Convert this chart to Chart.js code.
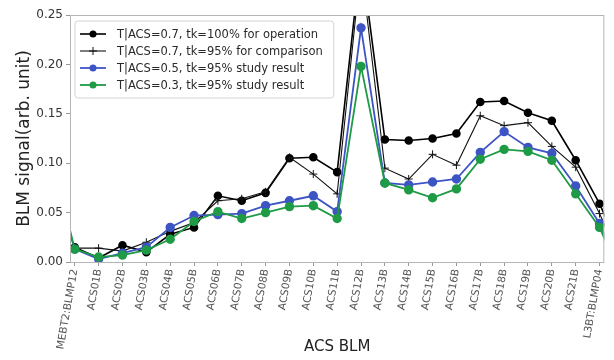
<!DOCTYPE html>
<html>
<head>
<meta charset="utf-8">
<script src="https://cdn.jsdelivr.net/npm/chart.js@4/dist/chart.umd.min.js"></script>
<style>
  body { margin: 0; background: #fff; }
  #wrap { width: 614px; height: 360px; }
</style>
</head>
<body>
<div id="wrap"><canvas id="blmChart"></canvas></div>
<script>
// BLM positions along the ACS section
const blmNames = ['MEBT2:BLMP12', 'ACS01B', 'ACS02B', 'ACS03B', 'ACS04B', 'ACS05B', 'ACS06B',
    'ACS07B', 'ACS08B', 'ACS09B', 'ACS10B', 'ACS11B', 'ACS12B', 'ACS13B', 'ACS14B', 'ACS15B',
    'ACS16B', 'ACS17B', 'ACS18B', 'ACS19B', 'ACS20B', 'ACS21B', 'L3BT:BLMP04'];

// signals (arb. unit)
const opT07tk100 = [0.015, 0.004, 0.017, 0.010, 0.028, 0.035, 0.067, 0.062, 0.070, 0.105, 0.106, 0.091,
    0.310, 0.124, 0.123, 0.125, 0.130, 0.162, 0.163, 0.151, 0.143, 0.103, 0.059];
const cmpT07tk95 = [0.014, 0.014, 0.011, 0.020, 0.031, 0.040, 0.062, 0.064, 0.071, 0.106, 0.089, 0.069,
    0.300, 0.095, 0.084, 0.109, 0.098, 0.148, 0.138, 0.141, 0.117, 0.096, 0.049];
const studyT05tk95 = [0.013, 0.003, 0.009, 0.015, 0.035, 0.047, 0.048, 0.049, 0.057, 0.062, 0.067, 0.051,
    0.237, 0.080, 0.078, 0.081, 0.084, 0.111, 0.132, 0.116, 0.110, 0.077, 0.039];
const studyT03tk95 = [0.013, 0.005, 0.007, 0.012, 0.023, 0.041, 0.051, 0.044, 0.050, 0.056, 0.057, 0.044,
    0.198, 0.080, 0.073, 0.065, 0.074, 0.104, 0.114, 0.112, 0.103, 0.069, 0.035];

// neighbouring monitors just outside the plotted range (only their line stubs show)
const upstreamBlm = [0.015, 0.014, 0.090, 0.110];
const downstreamBlm = [0.005, -0.005, -0.015, -0.020];

const yTicks = [0, 0.05, 0.10, 0.15, 0.20, 0.25];

function toPoints(values, k) {
    const pts = values.map((v, i) => ({ x: i, y: v }));
    pts.unshift({ x: -1, y: upstreamBlm[k] });
    pts.push({ x: values.length, y: downstreamBlm[k] });
    return pts;
}

// legend drawn inside the plot, matplotlib style (line + marker)
const innerLegend = {
    id: 'innerLegend',
    afterDatasetsDraw(chart) {
        const ctx = chart.ctx;
        const area = chart.chartArea;
        const x0 = area.left + 5, y0 = area.top + 6;
        const rowH = 17;
        ctx.save();
        ctx.font = '11.5px "DejaVu Sans"';
        let maxW = 0;
        chart.data.datasets.forEach(ds => { maxW = Math.max(maxW, ctx.measureText(ds.label).width); });
        const w = 47 + maxW + 6, h = rowH * 4 + 9;
        ctx.beginPath();
        ctx.roundRect(x0, y0, w, h, 3);
        ctx.fillStyle = 'rgba(255,255,255,0.85)';
        ctx.fill();
        ctx.strokeStyle = '#d4d4d4';
        ctx.lineWidth = 1;
        ctx.stroke();

        chart.data.datasets.forEach((ds, i) => {
            const y = y0 + 13 + i * rowH;
            ctx.strokeStyle = ds.borderColor;
            ctx.lineWidth = ds.borderWidth;
            ctx.beginPath();
            ctx.moveTo(x0 + 5, y);
            ctx.lineTo(x0 + 31, y);
            ctx.stroke();
            const mx = x0 + 18;
            if (ds.pointStyle === 'cross') {
                ctx.lineWidth = 1;
                ctx.beginPath();
                ctx.moveTo(mx - 4, y); ctx.lineTo(mx + 4, y);
                ctx.moveTo(mx, y - 4); ctx.lineTo(mx, y + 4);
                ctx.stroke();
            } else {
                ctx.fillStyle = ds.pointBackgroundColor;
                ctx.beginPath();
                ctx.arc(mx, y, 3.5, 0, Math.PI * 2);
                ctx.fill();
            }
            ctx.fillStyle = '#2a2a2a';
            ctx.textBaseline = 'middle';
            ctx.fillText(ds.label, x0 + 42, y + 1);
        });
        ctx.restore();
    }
};

// box around the plot area
const frame = {
    id: 'frame',
    afterDraw(chart) {
        const a = chart.chartArea;
        const ctx = chart.ctx;
        ctx.save();
        ctx.strokeStyle = '#b5b5b5';
        ctx.lineWidth = 1;
        ctx.strokeRect(a.left + 0.5, a.top + 0.5, a.right - a.left - 1, a.bottom - a.top);
        ctx.restore();
    }
};

const ctx = document.getElementById('blmChart').getContext('2d');
new Chart(ctx, {
    type: 'line',
    data: {
        datasets: [{
            label: 'T|ACS=0.7, tk=100% for operation',
            data: toPoints(opT07tk100, 0),
            borderColor: '#000',
            pointBackgroundColor: '#000',
            pointBorderColor: '#000',
            borderWidth: 1.6,
            pointRadius: 3.5,
            order: 4
        }, {
            label: 'T|ACS=0.7, tk=95% for comparison',
            data: toPoints(cmpT07tk95, 1),
            borderColor: '#111',
            pointBackgroundColor: '#111',
            pointBorderColor: '#111',
            pointStyle: 'cross',
            borderWidth: 1.1,
            pointBorderWidth: 1,
            pointRadius: 4,
            order: 3
        }, {
            label: 'T|ACS=0.5, tk=95% study result',
            data: toPoints(studyT05tk95, 2),
            borderColor: '#3d55c4',
            pointBackgroundColor: '#3d55c4',
            pointBorderColor: '#3d55c4',
            borderWidth: 1.8,
            pointRadius: 3.8,
            order: 2
        }, {
            label: 'T|ACS=0.3, tk=95% study result',
            data: toPoints(studyT03tk95, 3),
            borderColor: '#1e9b44',
            pointBackgroundColor: '#1e9b44',
            pointBorderColor: '#1e9b44',
            borderWidth: 1.8,
            pointRadius: 3.8,
            order: 1
        }]
    },
    options: {
        responsive: true,
        maintainAspectRatio: false,
        animation: false,
        layout: { padding: { left: 14, right: 5, top: 15, bottom: 0 } },
        elements: { line: { tension: 0 } },
        scales: {
            x: {
                type: 'linear',
                min: -0.2,
                max: blmNames.length - 0.8,
                afterBuildTicks: scale => {
                    scale.ticks = blmNames.map((_, i) => ({ value: i }));
                },
                afterFit: scale => { scale.height = 98; },
                grid: { drawOnChartArea: false, drawTicks: true, tickLength: 4, color: '#999' },
                border: { display: false },
                ticks: {
                    autoSkip: false,
                    minRotation: 80,
                    maxRotation: 80,
                    padding: 2,
                    color: '#555',
                    font: { family: 'DejaVu Sans', size: 10.5 },
                    callback: v => blmNames[v] ?? ''
                },
                title: {
                    display: true,
                    text: 'ACS BLM',
                    color: '#222',
                    padding: { top: 0, bottom: 4 },
                    font: { family: 'DejaVu Sans', size: 15 }
                }
            },
            y: {
                min: 0,
                max: 0.25,
                afterBuildTicks: scale => {
                    scale.ticks = yTicks.map(v => ({ value: v }));
                },
                afterFit: scale => { scale.width = 56; },
                grid: { drawOnChartArea: false, drawTicks: true, tickLength: 4, color: '#999' },
                border: { display: false },
                ticks: {
                    color: '#333',
                    padding: 3,
                    font: { family: 'DejaVu Sans', size: 12 },
                    callback: v => v.toFixed(2)
                },
                title: {
                    display: true,
                    text: 'BLM signal(arb. unit)',
                    color: '#222',
                    padding: { top: 0, bottom: 0 },
                    font: { family: 'DejaVu Sans', size: 17 }
                }
            }
        },
        plugins: {
            legend: { display: false },
            tooltip: { enabled: false }
        }
    },
    plugins: [innerLegend, frame]
});
</script>
</body>
</html>
